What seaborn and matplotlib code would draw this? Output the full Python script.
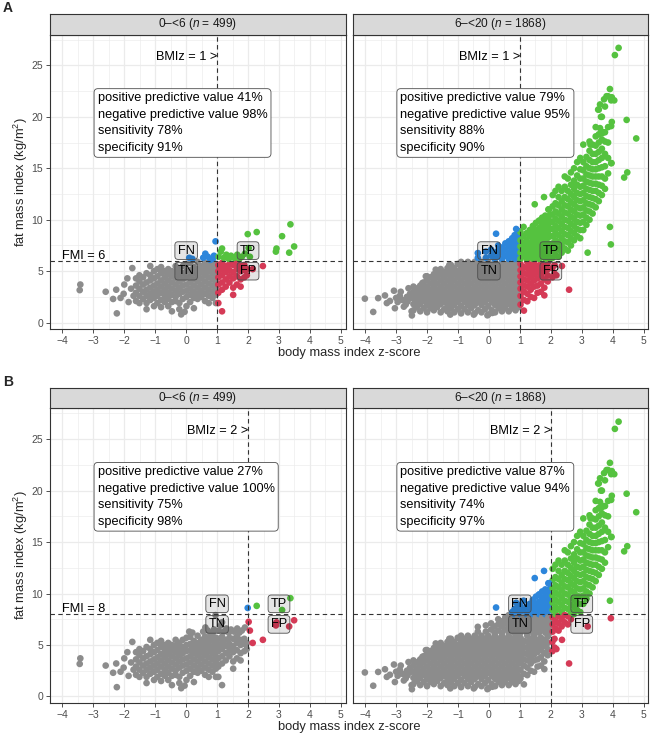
import pandas as pd
import seaborn as sns
import matplotlib.pyplot as plt

# Setting styles and fonts
sns.set_style('white')
plt.rcParams['font.family'] = ['Liberation Sans', 'DejaVu Sans']
plt.rcParams['mathtext.fontset'] = 'custom'
plt.rcParams['mathtext.rm'] = 'Liberation Sans'
plt.rcParams['mathtext.it'] = 'Liberation Sans:italic'

# ---------------- data ----------------
# point clouds: (bmiz, [fmi values seen at that bmiz])
young_cols = [
    (-1.62, [2.1, 2.9, 3.6, 4.3]),
    (-1.51, [1.9, 2.6, 3.3, 4.0, 4.6]),
    (-1.39, [2.3, 3.0, 3.7, 4.4]),
    (-1.28, [1.3, 1.9, 2.6, 3.2, 3.9, 4.8]),
    (-1.16, [2.2, 2.8, 3.4, 4.1, 4.6, 5.5]),
    (-1.04, [1.6, 2.4, 3.0, 3.6, 4.3, 5.0]),
    (-0.93, [1.9, 2.6, 3.2, 3.8, 4.5, 5.2]),
    (-0.81, [1.5, 2.2, 2.9, 3.5, 4.1, 4.8, 5.4]),
    (-0.69, [2.0, 2.6, 3.2, 3.8, 4.4, 5.0]),
    (-0.58, [1.6, 2.3, 2.9, 3.5, 4.1, 4.7, 5.2]),
    (-0.46, [1.1, 2.0, 2.7, 3.3, 3.9, 4.5, 5.0]),
    (-0.34, [2.1, 2.5, 3.1, 3.7, 4.3, 4.9, 5.5]),
    (-0.22, [1.3, 1.9, 2.8, 3.4, 4.0, 4.6, 5.2]),
    (-0.11, [2.3, 3.0, 3.6, 4.2, 4.8, 5.5]),
    (0.01, [1.6, 2.5, 3.1, 3.7, 4.4, 5.0, 5.7]),
    (0.13, [2.0, 2.7, 3.3, 3.9, 4.5, 5.1, 5.8]),
    (0.25, [1.4, 2.4, 3.0, 3.6, 4.2, 4.8, 5.4]),
    (0.37, [2.3, 2.8, 3.4, 4.0, 4.6, 5.2, 5.9]),
    (0.49, [2.5, 3.1, 3.7, 4.3, 4.9, 5.5]),
    (0.61, [2.1, 2.8, 3.4, 4.0, 4.6, 5.2, 5.8]),
    (0.73, [1.9, 2.6, 3.2, 3.8, 4.4, 5.0, 5.6]),
    (0.85, [2.4, 3.0, 3.6, 4.2, 4.8, 5.4, 5.9]),
    (0.96, [1.9, 2.7, 3.3, 3.9, 4.5, 5.1, 5.7]),
    (1.04, [1.9, 2.9, 3.7, 4.4, 5.0, 5.6]),
    (1.16, [1.1, 3.2, 3.9, 4.6, 5.2, 5.8]),
    (1.28, [3.5, 4.2, 4.9, 5.5]),
    (1.40, [3.9, 4.5, 5.1, 5.7]),
    (1.52, [2.7, 3.4, 4.3, 4.9, 5.6]),
    (1.64, [3.7, 4.5, 5.2, 5.8]),
    (1.76, [3.5, 4.2, 5.0, 5.5]),
    (1.88, [4.4, 5.1, 5.6]),
    (1.96, [4.6, 5.2]),
]
young_pairs = [
    (-3.42, 3.7), (-3.44, 3.16), (-2.6, 3.0), (-2.36, 2.3), (-2.26, 3.2),
    (-2.24, 0.9), (-2.12, 2.4), (-2.0, 3.7), (-2.02, 2.8), (-1.9, 4.3),
    (-1.86, 2.0), (-1.78, 3.3), (-1.74, 5.3), (-1.7, 2.6), (-0.16, 0.8),
    (-0.05, 1.05), (0.1, 6.3), (0.2, 6.2), (0.55, 6.3), (0.62, 6.7),
    (0.7, 6.4), (0.78, 6.1), (0.86, 6.2), (0.9, 6.5), (0.95, 7.9),
    (1.05, 6.4), (1.12, 6.9), (1.16, 7.2), (1.22, 6.3), (1.3, 6.6),
    (1.38, 6.2), (1.45, 6.5), (1.55, 6.3), (1.65, 6.6), (1.72, 6.2),
    (1.8, 6.4), (1.9, 6.7), (1.99, 8.6), (2.02, 7.25), (2.06, 6.4),
    (2.15, 5.2), (2.28, 8.8), (2.48, 5.5), (2.9, 6.9), (2.92, 7.2),
    (3.1, 8.4), (3.33, 6.8), (3.37, 9.55), (3.49, 7.4),
]

old_cols = [
    (-2.44, [1.2, 1.8, 2.4, 3.0, 3.5]),
    (-2.33, [1.5, 2.1, 2.7, 3.3]),
    (-2.22, [1.1, 1.8, 2.4, 3.0, 3.6]),
    (-2.11, [1.4, 2.1, 2.7, 3.3, 3.9]),
    (-2.00, [1.0, 1.7, 2.3, 2.9, 3.5, 4.1, 4.5]),
    (-1.89, [1.4, 2.0, 2.6, 3.2, 3.8, 4.4]),
    (-1.78, [1.2, 1.7, 2.3, 2.9, 3.5, 4.1, 4.7]),
    (-1.67, [1.5, 2.0, 2.6, 3.2, 3.8, 4.4, 5.0]),
    (-1.56, [1.0, 1.8, 2.3, 2.9, 3.5, 4.1, 4.7, 5.2]),
    (-1.45, [1.3, 2.0, 2.6, 3.2, 3.8, 4.4, 4.9]),
    (-1.34, [1.1, 1.7, 2.3, 2.9, 3.5, 4.1, 4.7, 5.3]),
    (-1.23, [1.4, 2.0, 2.6, 3.2, 3.8, 4.4, 5.0, 5.6]),
    (-1.12, [1.0, 1.7, 2.3, 2.9, 3.5, 4.1, 4.7, 5.3]),
    (-1.01, [1.3, 2.0, 2.6, 3.2, 3.8, 4.4, 5.0, 5.7]),
    (-0.90, [0.9, 1.6, 2.3, 2.9, 3.5, 4.1, 4.7, 5.3, 5.9]),
    (-0.79, [1.3, 2.0, 2.6, 3.2, 3.8, 4.4, 5.0, 5.6]),
    (-0.68, [1.0, 1.7, 2.3, 2.9, 3.5, 4.1, 4.7, 5.3, 5.9]),
    (-0.57, [1.4, 2.0, 2.6, 3.2, 3.8, 4.4, 5.0, 5.6]),
    (-0.46, [0.9, 1.7, 2.3, 2.9, 3.5, 4.1, 4.7, 5.3, 5.9]),
    (-0.35, [1.2, 2.0, 2.6, 3.2, 3.8, 4.4, 5.0, 5.6]),
    (-0.24, [1.0, 1.7, 2.3, 2.9, 3.5, 4.1, 4.7, 5.3, 5.9]),
    (-0.13, [1.3, 2.0, 2.6, 3.2, 3.8, 4.4, 5.0, 5.6]),
    (-0.02, [0.8, 1.6, 2.3, 2.9, 3.5, 4.1, 4.7, 5.3, 5.9]),
    (0.09, [1.2, 2.0, 2.6, 3.2, 3.8, 4.4, 5.0, 5.6]),
    (0.20, [1.0, 1.7, 2.3, 2.9, 3.5, 4.1, 4.7, 5.3, 5.9]),
    (0.31, [1.4, 2.0, 2.6, 3.2, 3.8, 4.4, 5.0, 5.6]),
    (0.42, [1.1, 1.7, 2.3, 2.9, 3.5, 4.1, 4.7, 5.3, 5.9]),
    (0.53, [1.4, 2.0, 2.6, 3.2, 3.8, 4.4, 5.0, 5.6]),
    (0.64, [1.1, 1.8, 2.3, 2.9, 3.5, 4.1, 4.7, 5.3, 5.9]),
    (0.75, [1.4, 2.0, 2.6, 3.2, 3.8, 4.4, 5.0, 5.6]),
    (0.86, [1.2, 1.8, 2.3, 2.9, 3.5, 4.1, 4.7, 5.3, 5.9]),
    (0.96, [1.5, 2.0, 2.6, 3.2, 3.8, 4.4, 5.0, 5.6]),
    # above the FMI cut, left of BMIz 1
    (-0.36, [6.3, 6.76]),
    (-0.10, [6.3, 6.9]),
    (0.07, [6.5, 7.1]),
    (0.18, [6.2, 6.8]),
    (0.30, [6.4, 7.0, 7.5]),
    (0.42, [6.2, 6.8, 7.3]),
    (0.53, [6.5, 7.1, 7.7]),
    (0.64, [6.2, 6.8, 7.4, 7.9]),
    (0.75, [6.5, 7.1, 7.7, 8.2]),
    (0.83, [6.2, 6.8, 7.4, 8.0, 8.5]),
    (0.94, [6.5, 7.1, 7.7, 8.3, 8.9]),
    # right of BMIz 1, below FMI 6
    (1.02, [1.75, 2.6, 3.3, 3.9, 4.5, 5.1, 5.7]),
    (1.13, [1.17, 2.2, 3.0, 3.6, 4.2, 4.8, 5.4]),
    (1.24, [2.07, 2.8, 3.5, 4.1, 4.7, 5.3, 5.9]),
    (1.35, [2.5, 3.2, 3.8, 4.4, 5.0, 5.6]),
    (1.46, [2.4, 3.5, 4.1, 4.7, 5.3, 5.9]),
    (1.57, [2.9, 3.6, 4.3, 4.9, 5.5]),
    (1.68, [3.0, 3.8, 4.5, 5.1, 5.7]),
    (1.79, [2.65, 3.4, 4.2, 4.9, 5.5]),
    (1.90, [4.0, 4.6, 5.2, 5.8]),
    (2.05, [4.4, 5.3]),
    (2.12, [4.75, 5.6]),
    # right of BMIz 1, above FMI 6
    (1.02, [6.2, 6.8, 7.4, 8.0, 8.8]),
    (1.12, [6.5, 7.1, 7.7, 8.4, 9.3]),
    (1.22, [6.2, 6.8, 7.4, 8.0, 8.7]),
    (1.32, [6.5, 7.1, 7.7, 8.4, 9.0]),
    (1.42, [6.2, 6.8, 7.4, 8.0, 8.7, 9.4]),
    (1.52, [6.5, 7.1, 7.7, 8.3, 9.0, 9.7]),
    (1.62, [6.2, 6.8, 7.4, 8.0, 8.6, 9.2, 9.9]),
    (1.72, [6.5, 7.1, 7.7, 8.3, 8.9, 9.5, 10.2]),
    (1.82, [6.2, 6.8, 7.4, 8.0, 8.6, 9.2, 9.8, 10.4]),
    (1.92, [6.5, 7.1, 7.7, 8.3, 8.9, 9.5, 10.1, 11.0]),
    (1.98, [6.2, 6.9, 7.6, 8.4, 9.1, 9.8, 10.5]),
    (2.06, [6.3, 7.0, 7.7, 8.4, 9.1, 9.8, 10.5, 11.3, 12.4]),
    (2.15, [6.6, 7.3, 8.0, 8.7, 9.4, 10.1, 10.8, 11.6, 12.8]),
    (2.25, [6.4, 7.1, 7.8, 8.5, 9.2, 9.9, 10.6, 11.4, 12.2, 13.2]),
    (2.35, [6.8, 7.5, 8.2, 8.9, 9.6, 10.3, 11.0, 11.8, 12.8]),
    (2.45, [7.2, 7.9, 8.6, 9.3, 10.0, 10.7, 11.4, 12.2, 13.2, 14.2]),
    (2.55, [7.0, 7.8, 8.5, 9.2, 9.9, 10.6, 11.3, 12.0, 12.8, 14.0]),
    (2.65, [7.5, 8.2, 8.9, 9.6, 10.3, 11.0, 11.7, 12.5, 13.4, 14.6]),
    (2.75, [8.0, 8.7, 9.4, 10.1, 10.8, 11.5, 12.2, 13.0, 13.8, 15.0]),
    (2.85, [8.4, 9.1, 9.8, 10.5, 11.2, 11.9, 12.6, 13.4, 14.3, 15.6]),
    (2.95, [8.2, 9.0, 9.7, 10.4, 11.1, 11.8, 12.5, 13.2, 14.0, 14.9, 16.0]),
    (3.05, [9.0, 9.8, 10.5, 11.2, 11.9, 12.6, 13.3, 14.0, 14.8, 15.6, 17.3]),
    (3.15, [9.5, 10.2, 10.9, 11.6, 12.3, 13.0, 13.7, 14.4, 15.2, 16.1]),
    (3.25, [10.0, 10.8, 11.5, 12.2, 12.9, 13.6, 14.3, 15.0, 15.8, 16.7, 17.6]),
    (3.35, [10.6, 11.4, 12.1, 12.8, 13.5, 14.2, 14.9, 15.6, 16.4, 17.3]),
    (3.45, [11.2, 12.0, 12.8, 13.5, 14.2, 14.9, 15.6, 16.4, 17.2, 18.1, 19.0]),
    (3.55, [11.8, 12.6, 13.4, 14.2, 15.0, 15.8, 16.6, 17.5, 18.3, 20.7]),
    (3.65, [12.4, 13.3, 14.2, 15.1, 16.0, 16.9, 17.8, 18.4, 20.0]),
    (3.75, [13.0, 14.0, 15.2, 16.4, 17.6, 18.5, 21.0]),
    (3.85, [14.5, 16.0, 17.5, 19.0, 22.0]),
    (3.95, [15.5, 19.1, 21.6]),
]
old_pairs = [
    (-4.01, 2.33), (-3.74, 1.04), (-3.58, 2.38), (-3.36, 2.64), (-3.3, 1.9),
    (-3.2, 2.1), (-3.07, 3.1), (-3.04, 1.4), (-3.0, 2.4), (-2.95, 2.0),
    (-2.88, 2.6), (-2.85, 3.0), (-2.8, 2.2), (-2.75, 1.55), (-2.69, 1.75),
    (-2.65, 2.5), (-2.63, 2.05), (-2.6, 3.34), (-2.55, 2.8), (-2.52, 2.4),
    (-2.5, 1.1), (-2.49, 0.7), (-2.26, 3.4), (-2.15, 3.85), (-2.04, 4.5),
    (-1.72, 5.15), (-1.28, 5.6), (-1.25, 0.78), (-0.49, 0.78), (-0.05, 0.71),
    (0.11, 0.94), (0.43, 1.3), (0.23, 8.64), (0.88, 9.1), (1.48, 11.5),
    (1.78, 12.2), (1.62, 9.9), (1.94, 11.0), (2.18, 4.6), (2.36, 5.5),
    (2.59, 3.2), (3.19, 6.8), (3.94, 7.6), (3.91, 9.3), (4.19, 26.7),
    (4.07, 26.0), (3.91, 22.7), (3.8, 22.0), (3.97, 21.9), (4.05, 21.6),
    (3.72, 21.7), (3.59, 21.2), (3.62, 20.0), (3.97, 19.5), (3.53, 20.7),
    (3.59, 18.9), (4.45, 19.7), (4.76, 17.9), (4.47, 14.6), (4.37, 14.1),
    (3.96, 15.5), (3.28, 17.3), (3.70, 18.5),
]

# age groups (facet strips)
groups = ['0–<6', '6–<20']
group_n = [499, 1868]

# cut-offs per row: A and B
rows = ['A', 'B']
bmiz_cut = [1, 2]
fmi_cut = [6, 8]

# diagnostic accuracy per row (A, B) and group (young, old)
ppv = [[41, 79], [27, 87]]
npv = [[98, 95], [100, 94]]
sens = [[78, 88], [75, 74]]
spec = [[91, 90], [98, 97]]

colours = {'TN': '#8C8C8C', 'FN': '#2D86DB', 'TP': '#55C23F', 'FP': '#D53A56'}


def expand(cols, pairs):
    xs, ys = [], []
    for x, col in cols:
        xs += [x] * len(col)
        ys += col
    for x, y in pairs:
        xs.append(x)
        ys.append(y)
    return xs, ys


young_x, young_y = expand(young_cols, young_pairs)
old_x, old_y = expand(old_cols, old_pairs)
points = pd.DataFrame({
    'bmiz': young_x + old_x,
    'fmi': young_y + old_y,
    'age': [groups[0]] * len(young_x) + [groups[1]] * len(old_x),
})

# ---------------- layout (pixels) ----------------
W, H = 652, 734


def frac(left, top, width, height):
    return [left / W, 1 - (top + height) / H, width / W, height / H]


panel_left = [50, 352.8]
panel_w = 295.5
row_top = [34.5, 408.3]
panel_h = 294.3
strip_h = 20.5

fig = plt.figure(figsize=(W / 100, H / 100), dpi=100)
dark = '#333333'

for r, row in enumerate(rows):
    tx, ty = bmiz_cut[r], fmi_cut[r]
    for g, grp in enumerate(groups):
        ax = fig.add_axes(frac(panel_left[g], row_top[r], panel_w, panel_h))
        sub = points[points['age'] == grp].copy()
        above = sub['fmi'] >= ty
        right = sub['bmiz'] >= tx
        sub['cls'] = 'TN'
        sub.loc[above & ~right, 'cls'] = 'FN'
        sub.loc[above & right, 'cls'] = 'TP'
        sub.loc[~above & right, 'cls'] = 'FP'

        sns.scatterplot(data=sub, x='bmiz', y='fmi', hue='cls', palette=colours,
                        s=23, linewidth=0, legend=False, ax=ax, zorder=2)

        ax.set_xlim(-4.40, 5.15)
        ax.set_ylim(-0.6, 28.0)
        ax.set_xticks(range(-4, 6))
        ax.set_xticks([-3.5, -2.5, -1.5, -0.5, 0.5, 1.5, 2.5, 3.5, 4.5], minor=True)
        ax.set_yticks([0, 5, 10, 15, 20, 25])
        ax.set_yticks([2.5, 7.5, 12.5, 17.5, 22.5, 27.5], minor=True)
        ax.grid(which='major', color='#EBEBEB', lw=0.9)
        ax.grid(which='minor', color='#EBEBEB', lw=0.45)
        ax.set_axisbelow(True)
        ax.set_xlabel('')
        ax.set_ylabel('')
        for sp in ax.spines.values():
            sp.set_color(dark)
            sp.set_linewidth(0.8)
        ax.tick_params(which='major', length=3, width=0.6, color=dark,
                       labelsize=7.5, labelcolor='#4D4D4D', pad=2)
        ax.tick_params(which='minor', length=0)
        if g == 1:
            ax.tick_params(axis='y', left=False, labelleft=False)
        else:
            ax.tick_params(axis='y', left=True)
        ax.tick_params(axis='x', bottom=True)

        # cut-off lines
        ax.axvline(tx, color=dark, ls=(0, (4, 3)), lw=0.8, zorder=3)
        ax.axhline(ty, color=dark, ls=(0, (4, 3)), lw=0.8, zorder=3)

        ax.text(tx, 25.5, f'BMIz = {tx} >', ha='right', va='baseline',
                fontsize=9.2, color='black', zorder=5)
        if g == 0:
            ax.text(-4, ty + 0.2, f'FMI = {ty}', ha='left', va='baseline',
                    fontsize=9.2, color='black', zorder=5)

        # quadrant labels
        for lab, dx, dy in [('FN', -1, 1), ('TN', -1, -1), ('TP', 1, 1), ('FP', 1, -1)]:
            ax.text(tx + dx, ty + dy, lab, ha='center', va='center', fontsize=9.2,
                    color='black', zorder=4,
                    bbox=dict(boxstyle='round,pad=0.22,rounding_size=0.25',
                              fc=(0, 0, 0, 0.1), ec='#4D4D4D', lw=0.6))

        # accuracy box
        txt = (f'positive predictive value {ppv[r][g]}%\n'
               f'negative predictive value {npv[r][g]}%\n'
               f'sensitivity {sens[r][g]}%\n'
               f'specificity {spec[r][g]}%')
        ax.text(-2.86, 19.4, txt, ha='left', va='center', fontsize=9.2,
                linespacing=1.5, color='black', zorder=5,
                bbox=dict(boxstyle='round,pad=0.28,rounding_size=0.3',
                          fc='white', ec='#4D4D4D', lw=0.6))

        # facet strip
        st = fig.add_axes(frac(panel_left[g], row_top[r] - strip_h, panel_w, strip_h))
        st.set_facecolor('#D9D9D9')
        st.set_xticks([])
        st.set_yticks([])
        for sp in st.spines.values():
            sp.set_color(dark)
            sp.set_linewidth(0.8)
        st.text(0.5, 0.5, f'{grp} ($n$ = {group_n[g]})', ha='center', va='center',
                fontsize=8.6, color='#1A1A1A', transform=st.transAxes)

    # axis titles and row tag
    mid_y = row_top[r] + panel_h / 2
    fig.text(349 / W, 1 - (row_top[r] + panel_h + 24) / H, 'body mass index z-score',
             ha='center', va='center', fontsize=9.3)
    fig.text(21 / W, 1 - mid_y / H, 'fat mass index (kg/m$^2$)', rotation=90,
             ha='center', va='center', fontsize=9.3)
    fig.text(3 / W, 1 - (row_top[r] - 26.5) / H, row, ha='left', va='center',
             fontsize=10, fontweight='bold')

plt.savefig('out.png', dpi=100)
